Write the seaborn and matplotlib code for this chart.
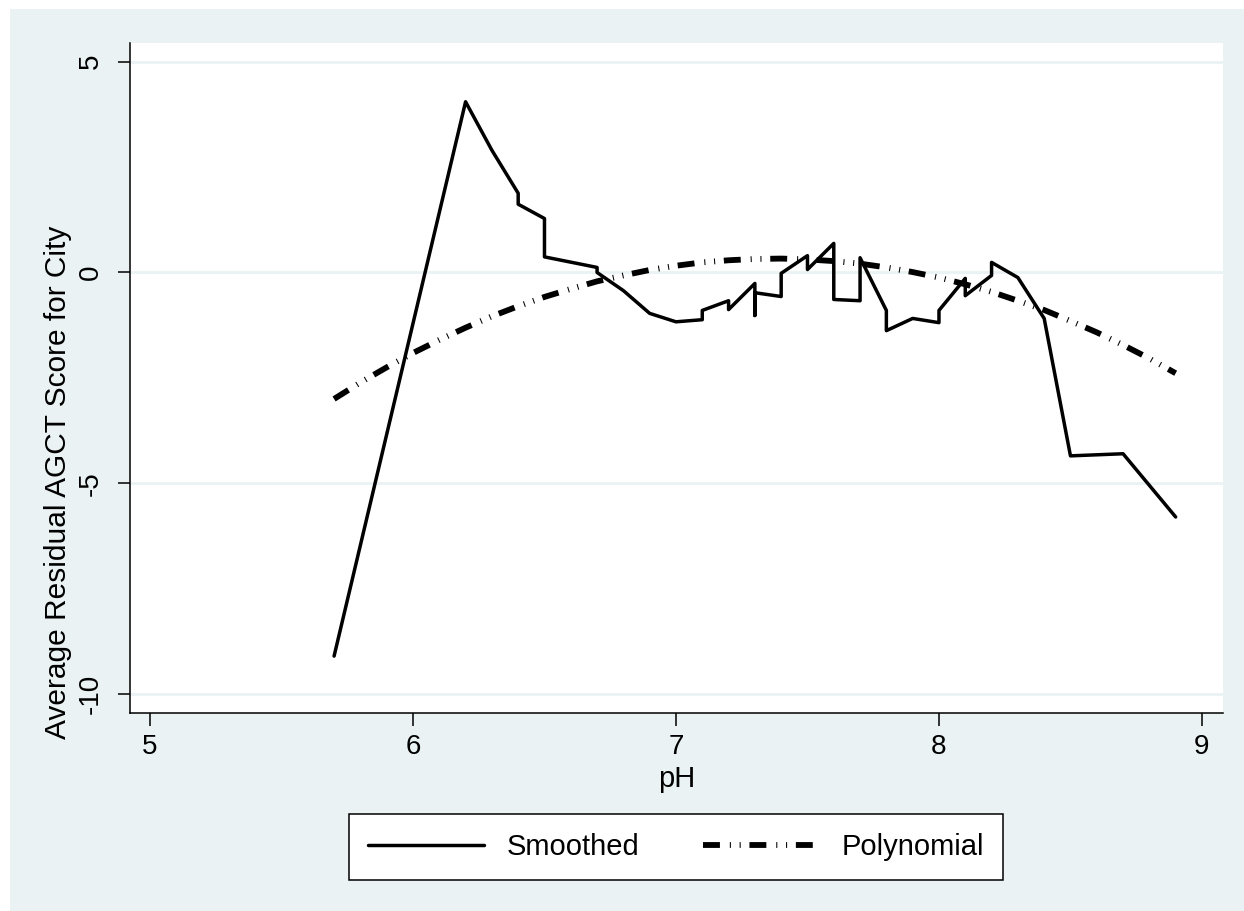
import numpy as np
import pandas as pd
import matplotlib
matplotlib.use("Agg")
import matplotlib.pyplot as plt
import seaborn as sns
from matplotlib.patches import Rectangle

# smoothed average residual (vertical jumps repeat the x value)
smooth_ph = [5.7, 6.2, 6.3, 6.4, 6.4, 6.5, 6.5, 6.7, 6.7, 6.8, 6.9, 7.0,
             7.1, 7.1, 7.2, 7.2, 7.3, 7.3, 7.3, 7.4, 7.4, 7.5, 7.5, 7.6,
             7.6, 7.7, 7.7, 7.8, 7.8, 7.9, 8.0, 8.0, 8.1, 8.1, 8.2, 8.2,
             8.3, 8.4, 8.5, 8.7, 8.9]
smooth_resid = [-9.1, 4.05, 2.9, 1.88, 1.62, 1.28, 0.37, 0.12, 0.0, -0.43,
                -0.97, -1.17, -1.12, -0.9, -0.67, -0.88, -0.26, -1.02, -0.48,
                -0.57, -0.02, 0.40, 0.07, 0.69, -0.64, -0.67, 0.35, -0.90,
                -1.38, -1.09, -1.19, -0.90, -0.14, -0.55, -0.07, 0.24, -0.12,
                -1.09, -4.35, -4.30, -5.80]

# polynomial fit values
poly_ph = [5.7, 5.8, 5.9, 6.0, 6.1, 6.2, 6.3, 6.4, 6.5, 6.6, 6.7, 6.8, 6.9,
           7.0, 7.1, 7.2, 7.3, 7.4, 7.5, 7.6, 7.7, 7.8, 7.9, 8.0, 8.1, 8.2,
           8.3, 8.4, 8.5, 8.6, 8.7, 8.8, 8.9]
poly_resid = [-3.0, -2.61, -2.25, -1.91, -1.60, -1.31, -1.04, -0.80, -0.58,
              -0.39, -0.21, -0.07, 0.06, 0.16, 0.24, 0.29, 0.32, 0.33, 0.31,
              0.27, 0.21, 0.12, 0.01, -0.12, -0.28, -0.46, -0.67, -0.89,
              -1.15, -1.42, -1.72, -2.04, -2.39]

x_ticks = [5, 6, 7, 8, 9]
y_ticks = [-10, -5, 0, 5]

sns.set_style("white")
plt.rcParams['font.family'] = ['Liberation Sans', 'DejaVu Sans']
plt.rcParams['text.color'] = 'black'
plt.rcParams['axes.labelcolor'] = 'black'
plt.rcParams['xtick.color'] = 'black'
plt.rcParams['ytick.color'] = 'black'

bg = "#EAF2F3"
fig = plt.figure(figsize=(12.44, 9.11), dpi=100, facecolor="white")
# light blue graph region with a thin white edge at left/top
fig.patches.append(Rectangle((10 / 1244, 0), 1 - 10 / 1244, 1 - 9 / 911,
                             transform=fig.transFigure, facecolor=bg,
                             edgecolor="none", zorder=-10))
ax = fig.add_axes([130 / 1244, (911 - 713) / 911, 1093 / 1244, 670 / 911])
ax.set_facecolor("white")

smooth_df = pd.DataFrame({"pH": smooth_ph, "resid": smooth_resid})
poly_df = pd.DataFrame({"pH": poly_ph, "resid": poly_resid})

sns.lineplot(data=smooth_df, x="pH", y="resid", sort=False, estimator=None,
             color="black", linewidth=2.5, label="Smoothed", ax=ax)
sns.lineplot(data=poly_df, x="pH", y="resid", sort=False, estimator=None,
             color="black", linewidth=4.2, label="Polynomial", ax=ax)
poly_line = ax.get_lines()[-1]
poly_line.set_dashes((2.9, 1.7, 0.18, 1.5, 0.18, 1.5))
poly_line.set_dash_capstyle("butt")

ax.set_xlim(4.924, 9.08)
ax.set_ylim(-10.45, 5.444)
ax.set_xticks(x_ticks)
ax.set_yticks(y_ticks)
ax.set_yticklabels([str(t) for t in y_ticks], rotation=90, va="center")
ax.grid(axis="y", color=bg, linewidth=2)
ax.grid(axis="x", visible=False)
ax.set_axisbelow(True)

for s in ["top", "right"]:
    ax.spines[s].set_visible(False)
for s in ["left", "bottom"]:
    ax.spines[s].set_color("black")
    ax.spines[s].set_linewidth(1.1)

ax.tick_params(axis="both", direction="out", length=9, width=1.1,
               color="black", labelcolor="black", labelsize=20,
               left=True, bottom=True)
ax.tick_params(axis="x", pad=6)
ax.tick_params(axis="y", pad=10)

ax.set_xlabel("pH", fontsize=21, labelpad=4, color="black")
ax.set_ylabel("Average Residual AGCT Score for City", fontsize=21.5,
              color="black")
ax.yaxis.set_label_coords(-0.053, 0.345)

ax.legend_.remove()
handles, labels = ax.get_legend_handles_labels()
leg = fig.legend(handles, labels, loc="center", ncol=2,
                 bbox_to_anchor=(676 / 1244, 1 - 847 / 911), fontsize=21,
                 frameon=True, fancybox=False, edgecolor="black",
                 facecolor="white", framealpha=1, handlelength=4.0,
                 handletextpad=0.75, columnspacing=2.2, borderpad=0.65,
                 labelcolor="black")
leg.get_frame().set_linewidth(1.1)

plt.savefig("out.png", dpi=100, facecolor=fig.get_facecolor())
